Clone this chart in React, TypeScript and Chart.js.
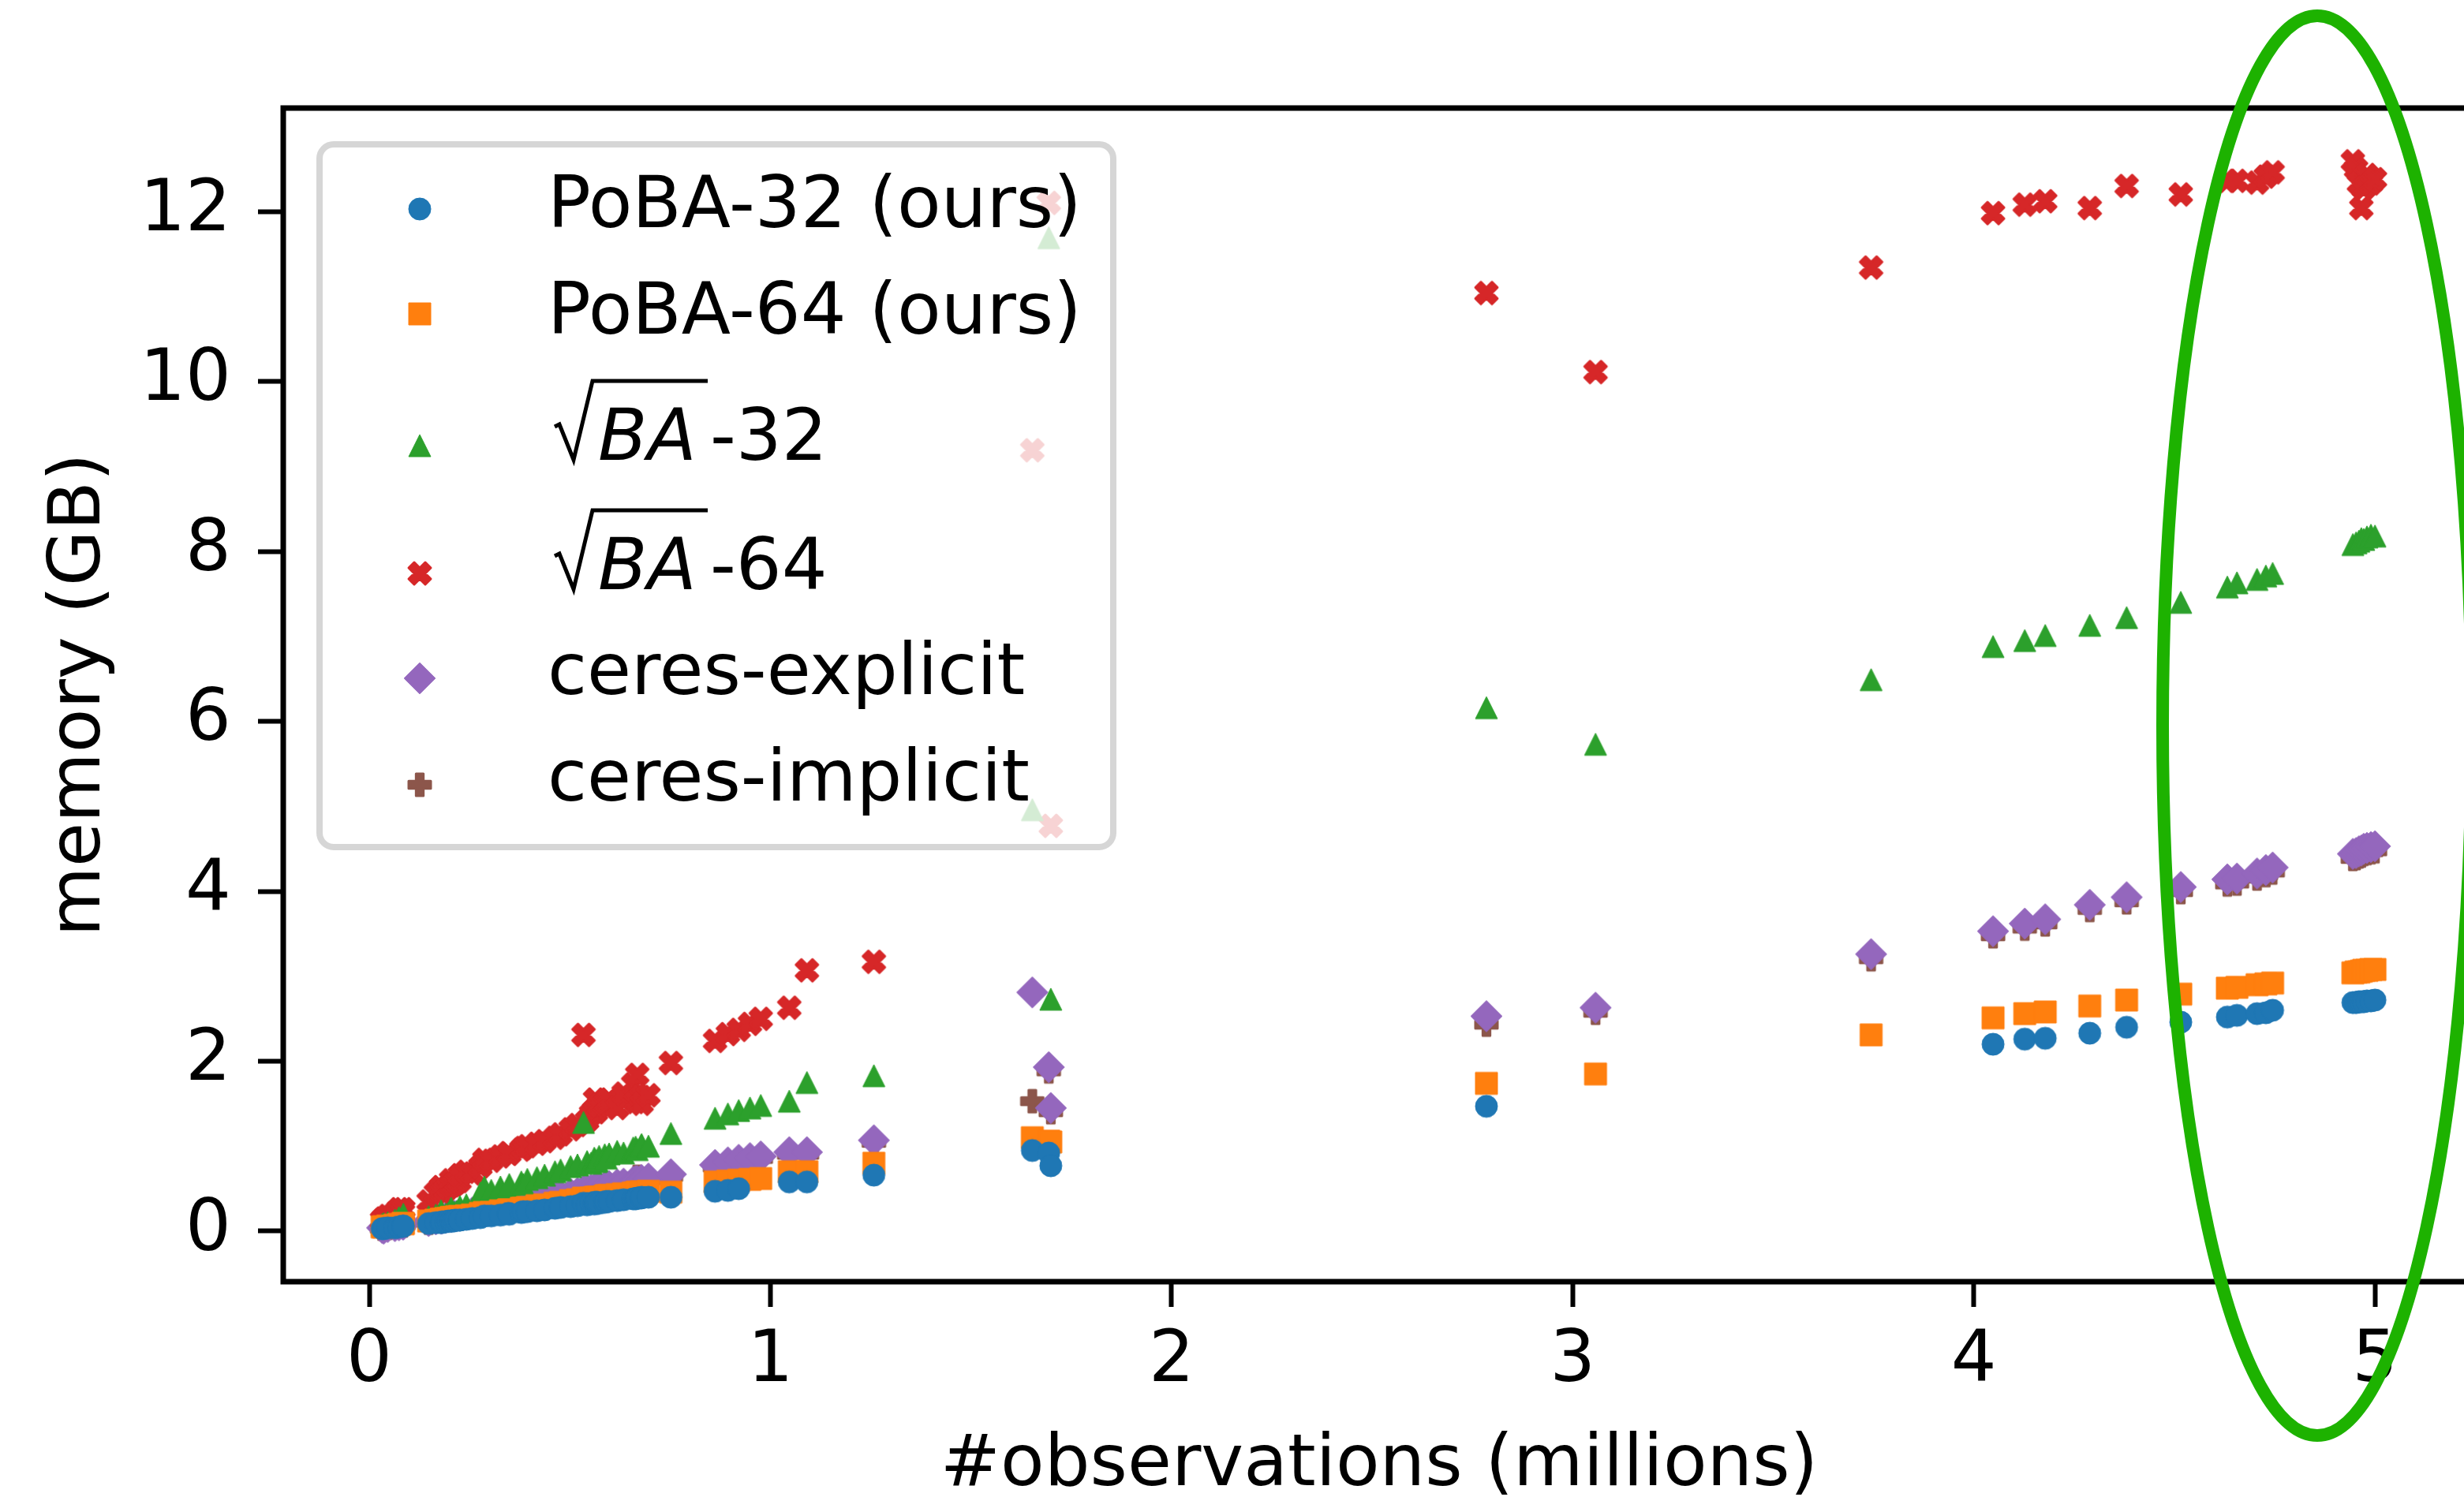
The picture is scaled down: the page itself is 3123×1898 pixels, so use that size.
import React, { useEffect, useRef } from 'react';
import { Chart, registerables } from 'chart.js';

Chart.register(...registerables);

// ---------------- data ----------------
const seriesNames = ['PoBA-32 (ours)', 'PoBA-64 (ours)', '√BA-32', '√BA-64', 'ceres-explicit', 'ceres-implicit'];
const seriesColors = ['#1f77b4', '#ff7f0e', '#2ca02c', '#d62728', '#9467bd', '#8c564b'];
const seriesMarkers = ['o', 's', '^', 'X', 'D', 'P'];
const xTickStep = 1;
const yTickStep = 2;
const xLabel = '#observations (millions)';
const yLabel = 'memory (GB)';

// #observations (millions)
const observations = [
  0.032, 0.036, 0.046, 0.064, 0.074, 0.084, 0.085,
  0.148, 0.166, 0.179, 0.182, 0.191, 0.197, 0.204, 0.205, 0.210, 0.213,
  0.218, 0.225, 0.226, 0.242, 0.257, 0.277, 0.287, 0.304, 0.327, 0.347,
  0.349, 0.379, 0.384, 0.394, 0.418, 0.437, 0.463, 0.477, 0.502, 0.519,
  0.534, 0.543, 0.553, 0.561, 0.563, 0.565, 0.568, 0.573, 0.587, 0.591,
  0.598, 0.618, 0.634, 0.658, 0.664, 0.668, 0.678, 0.679, 0.696,
  0.752, 0.862, 0.894, 0.921, 0.949, 0.976, 1.047, 1.091, 1.258,
  1.653, 1.694, 1.699, 2.785, 3.057, 3.744,
  4.048, 4.127, 4.178, 4.289, 4.381, 4.516, 4.632, 4.656, 4.706, 4.728, 4.745,
  4.945, 4.953, 4.960, 4.966, 4.972, 4.980, 4.990, 5.000,
];

// memory (GB)
const poba32 = [
  0.03, 0.03, 0.04, 0.04, 0.05, 0.06, 0.06,
  0.09, 0.10, 0.10, 0.11, 0.11, 0.12, 0.12, 0.12, 0.12, 0.13,
  0.13, 0.13, 0.13, 0.14, 0.15, 0.16, 0.18, 0.18, 0.19, 0.21,
  0.20, 0.22, 0.23, 0.23, 0.24, 0.25, 0.27, 0.28, 0.29, 0.30,
  0.33, 0.31, 0.33, 0.32, 0.34, 0.33, 0.34, 0.33, 0.34, 0.35,
  0.35, 0.36, 0.37, 0.38, 0.38, 0.39, 0.39, 0.40, 0.40,
  0.40, 0.47, 0.48, 0.50, null, null, 0.58, 0.58, 0.66,
  0.95, 0.92, 0.77, 1.47, null, null,
  2.20, 2.26, 2.27, 2.33, 2.40, 2.46, 2.52, 2.54, 2.56, 2.57, 2.60,
  2.69, 2.69, 2.70, 2.70, 2.70, 2.71, 2.71, 2.72,
];

const poba64 = [
  0.05, 0.05, 0.06, 0.07, 0.08, 0.09, 0.09,
  0.12, 0.13, 0.14, 0.14, 0.15, 0.15, 0.16, 0.16, 0.16, 0.16,
  0.17, 0.17, 0.17, 0.18, 0.19, 0.21, 0.22, 0.22, 0.24, 0.25,
  0.25, 0.27, 0.27, 0.28, 0.30, 0.31, 0.33, 0.34, 0.36, 0.37,
  0.39, 0.38, 0.39, 0.39, 0.40, 0.39, 0.40, 0.40, 0.41, 0.42,
  0.42, 0.43, 0.44, 0.45, 0.45, 0.46, 0.46, 0.46, 0.47,
  0.46, 0.58, 0.59, 0.60, 0.61, 0.62, 0.70, 0.70, 0.80,
  1.10, 1.06, 1.05, 1.74, 1.85, 2.31,
  2.51, 2.56, 2.58, 2.65, 2.72, 2.79, 2.86, 2.87, 2.90, 2.91, 2.92,
  3.04, 3.05, 3.05, 3.06, 3.07, 3.07, 3.08, 3.08,
];

const sqrtBA32 = [
  0.08, 0.09, 0.10, 0.13, 0.16, 0.15, 0.20,
  0.17, 0.19, 0.24, 0.19, 0.20, 0.21, 0.27, 0.21, 0.22, 0.22,
  0.23, 0.23, 0.29, 0.31, 0.26, 0.45, 0.52, 0.48, 0.52, 0.50,
  0.55, 0.58, 0.55, 0.61, 0.63, 0.66, 0.70, 0.72, 0.76, 0.78,
  1.28, 0.82, 0.80, 0.86, 0.84, 0.82, 0.83, 0.88, 0.90, 0.86,
  0.91, 0.94, 0.92, 0.98, 0.99, 0.96, 1.01, 1.02, 1.00,
  1.15, 1.33, 1.38, 1.42, 1.45, 1.48, 1.53, 1.75, 1.83,
  4.96, 11.69, 2.73, 6.16, 5.73, 6.49,
  6.88, 6.95, 7.01, 7.13, 7.22, 7.40, 7.58, 7.63, 7.67, 7.71, 7.74,
  8.08, 8.10, 8.12, 8.15, 8.14, 8.17, 8.19, 8.18,
];

const sqrtBA64 = [
  0.13, 0.15, 0.18, 0.21, 0.26, 0.22, 0.26,
  0.35, 0.45, 0.52, 0.45, 0.49, 0.52, 0.60, 0.54, 0.55, 0.56,
  0.58, 0.59, 0.66, 0.70, 0.68, 0.76, 0.84, 0.83, 0.88, 0.92,
  0.91, 0.96, 0.98, 1.00, 1.03, 1.06, 1.10, 1.14, 1.20, 1.25,
  2.31, 1.30, 1.38, 1.42, 1.55, 1.40, 1.45, 1.48, 1.50, 1.52,
  1.55, 1.45, 1.62, 1.73, 1.52, 1.84, 1.58, 1.50, 1.60,
  1.98, 2.24, 2.32, 2.37, 2.44, 2.50, 2.63, 3.07, 3.17,
  9.19, 12.10, 4.77, 11.04, 10.11, 11.34,
  11.98, 12.08, 12.12, 12.04, 12.30, 12.20, 12.36, 12.36, 12.34, 12.41, 12.46,
  12.59, 12.50, 12.33, 12.04, 12.27, 12.43, 12.33, 12.38,
];

const ceresExplicit = [
  0.04, 0.03, 0.05, 0.06, 0.07, 0.08, 0.08,
  0.12, 0.14, 0.15, 0.15, 0.16, 0.17, 0.17, 0.17, 0.18, 0.18,
  0.18, 0.19, 0.19, 0.21, 0.22, 0.24, 0.26, 0.26, 0.28, 0.30,
  0.30, 0.33, 0.34, 0.34, 0.36, 0.38, 0.41, 0.42, 0.44, 0.45,
  0.48, 0.48, 0.49, 0.49, 0.50, 0.50, 0.50, 0.51, 0.52, 0.53,
  0.53, 0.55, 0.56, 0.58, 0.59, 0.59, 0.60, 0.60, 0.62,
  0.67, 0.78, 0.81, 0.84, 0.86, 0.88, 0.93, 0.93, 1.07,
  2.81, 1.93, 1.45, 2.53, 2.63, 3.26,
  3.53, 3.62, 3.67, 3.84, 3.93, 4.05, 4.14, 4.15, 4.21, 4.25, 4.28,
  4.44, 4.45, 4.47, 4.48, 4.50, 4.51, 4.52, 4.53,
];

const ceresImplicit = [
  0.03, 0.03, 0.04, 0.05, 0.06, 0.07, 0.07,
  0.10, 0.12, 0.13, 0.13, 0.14, 0.15, 0.15, 0.15, 0.16, 0.16,
  0.16, 0.17, 0.17, 0.19, 0.20, 0.22, 0.24, 0.24, 0.26, 0.28,
  0.28, 0.31, 0.32, 0.32, 0.34, 0.36, 0.39, 0.40, 0.42, 0.43,
  0.46, 0.46, 0.47, 0.47, 0.48, 0.48, 0.48, 0.49, 0.50, 0.51,
  0.51, 0.53, 0.54, 0.56, 0.57, 0.64, 0.58, 0.58, 0.60,
  0.64, 0.75, 0.78, 0.81, 0.83, 0.85, 0.90, 0.90, 1.04,
  1.53, 1.88, 1.40, 2.43, 2.57, 3.20,
  3.47, 3.56, 3.61, 3.78, 3.87, 3.99, 4.08, 4.09, 4.15, 4.19, 4.22,
  4.38, 4.39, 4.41, 4.42, 4.44, 4.45, 4.46, 4.47,
];

const seriesValues = [poba32, poba64, sqrtBA32, sqrtBA64, ceresExplicit, ceresImplicit];

// ---------------- drawing helpers ----------------
const FONT = '"DejaVu Sans"';
const FS = 91;
const MS = 28; // marker size (px)

function markerPath(g: CanvasRenderingContext2D, shape: string, m: number) {
  g.beginPath();
  if (shape === 'o') {
    g.arc(0, 0, m / 2, 0, Math.PI * 2);
  } else if (shape === 's') {
    g.rect(-m / 2, -m / 2, m, m);
  } else if (shape === '^') {
    g.moveTo(0, -m / 2);
    g.lineTo(m / 2, m / 2);
    g.lineTo(-m / 2, m / 2);
    g.closePath();
  } else if (shape === 'D') {
    const d = m * Math.SQRT1_2;
    g.moveTo(0, -d);
    g.lineTo(d, 0);
    g.lineTo(0, d);
    g.lineTo(-d, 0);
    g.closePath();
  } else if (shape === 'X') {
    const pts = [[-1, -2], [0, -1], [1, -2], [2, -1], [1, 0], [2, 1], [1, 2], [0, 1], [-1, 2], [-2, 1], [-1, 0], [-2, -1]];
    pts.forEach(([px, py], i) => {
      const X = (px / 4) * m, Y = (py / 4) * m;
      if (i === 0) g.moveTo(X, Y); else g.lineTo(X, Y);
    });
    g.closePath();
  } else if (shape === 'P') {
    const pts = [[-1, -3], [1, -3], [1, -1], [3, -1], [3, 1], [1, 1], [1, 3], [-1, 3], [-1, 1], [-3, 1], [-3, -1], [-1, -1]];
    pts.forEach(([px, py], i) => {
      const X = (px / 6) * m, Y = (py / 6) * m;
      if (i === 0) g.moveTo(X, Y); else g.lineTo(X, Y);
    });
    g.closePath();
  }
}

function makeMarker(shape: string, color: string): HTMLCanvasElement {
  const S = 48;
  const c = document.createElement('canvas');
  c.width = S;
  c.height = S;
  const g = c.getContext('2d')!;
  g.translate(S / 2, S / 2);
  g.fillStyle = color;
  g.strokeStyle = color;
  g.lineJoin = 'round';
  markerPath(g, shape, MS);
  g.fill();
  g.lineWidth = shape === 'X' || shape === 'P' ? 3 : 1;
  g.stroke();
  return c;
}

export default function App() {
  const ref = useRef<HTMLCanvasElement>(null);

  useEffect(() => {
    const markers = seriesColors.map((c, i) => makeMarker(seriesMarkers[i], c));

    const datasets = seriesNames.map((name, i) => ({
      label: name,
      data: observations
        .map((x, j) => ({ x, y: seriesValues[i][j] }))
        .filter((p) => p.y !== null && p.y !== undefined),
      pointStyle: markers[i],
      pointRadius: 14,
      pointHoverRadius: 14,
      pointHitRadius: 0,
      backgroundColor: seriesColors[i],
      borderColor: seriesColors[i],
      borderWidth: 0,
      showLine: false,
    }));

    const overlay = {
      id: 'overlay',
      afterDraw(chart: any) {
        const ctx: CanvasRenderingContext2D = chart.ctx;
        const a = chart.chartArea;
        ctx.save();

        // spines (left, bottom, top; right spine lies outside the picture)
        ctx.strokeStyle = '#000';
        ctx.lineWidth = 7;
        ctx.lineJoin = 'miter';
        ctx.lineCap = 'butt';
        ctx.beginPath();
        ctx.moveTo(a.right + 20, a.top);
        ctx.lineTo(a.left, a.top);
        ctx.lineTo(a.left, a.bottom);
        ctx.lineTo(a.right + 20, a.bottom);
        ctx.stroke();

        // axis titles
        ctx.fillStyle = '#000';
        ctx.font = `${FS}px ${FONT}`;
        ctx.textAlign = 'center';
        ctx.textBaseline = 'alphabetic';
        ctx.fillText(xLabel, 1748, 1883);
        ctx.save();
        ctx.translate(126, (a.top + a.bottom) / 2);
        ctx.rotate(-Math.PI / 2);
        ctx.fillText(yLabel, 0, 0);
        ctx.restore();

        // legend
        const lx = 405, ly = 183, lw = 1006, lh = 891;
        ctx.beginPath();
        (ctx as any).roundRect(lx, ly, lw, lh, 18);
        ctx.fillStyle = 'rgba(255,255,255,0.8)';
        ctx.fill();
        ctx.strokeStyle = 'rgba(204,204,204,0.8)';
        ctx.lineWidth = 8;
        ctx.stroke();

        const markerY = [265, 398, 565, 727, 860, 995];
        const baseY = [288, 423, 583, 747, 880, 1015];
        seriesNames.forEach((name, i) => {
          const m = markers[i];
          ctx.drawImage(m, 532 - m.width / 2, markerY[i] - m.height / 2);
          const b = baseY[i];
          ctx.fillStyle = '#000';
          ctx.textAlign = 'left';
          ctx.textBaseline = 'alphabetic';
          if (name.startsWith('√')) {
            ctx.strokeStyle = '#000';
            ctx.lineWidth = 5;
            ctx.lineJoin = 'miter';
            ctx.beginPath();
            ctx.moveTo(703, b - 42);
            ctx.lineTo(709, b - 45);
            ctx.lineTo(727, b);
            ctx.lineTo(751, b - 100);
            ctx.lineTo(897, b - 100);
            ctx.stroke();
            ctx.font = `italic ${FS}px ${FONT}`;
            ctx.fillText('BA', 758, b);
            ctx.font = `${FS}px ${FONT}`;
            ctx.fillText(name.slice(3), 900, b);
          } else {
            ctx.font = `${FS}px ${FONT}`;
            ctx.fillText(name, 694, b);
          }
        });

        // green ellipse annotation
        ctx.beginPath();
        ctx.ellipse(2937, 920, 196, 900, 0, 0, Math.PI * 2);
        ctx.strokeStyle = 'rgb(29,178,0)';
        ctx.lineWidth = 16;
        ctx.stroke();

        ctx.restore();
      },
    };

    const tickFont = { family: 'DejaVu Sans', size: FS };

    const chart = new Chart(ref.current!, {
      type: 'scatter',
      data: { datasets: datasets as any },
      options: {
        animation: false,
        responsive: false,
        devicePixelRatio: 1,
        events: [],
        layout: { autoPadding: false, padding: { top: 137, left: 0, right: 0, bottom: 0 } },
        plugins: { legend: { display: false }, tooltip: { enabled: false } },
        scales: {
          x: {
            type: 'linear',
            position: 'bottom',
            min: -0.2144,
            max: 5.222,
            afterFit: (s: any) => { s.height = 273; s.paddingLeft = 0; s.paddingRight = 0; },
            border: { display: false },
            grid: { display: true, drawOnChartArea: false, drawTicks: true, tickLength: 32, tickWidth: 6, tickColor: '#000' },
            ticks: { stepSize: xTickStep, includeBounds: false, color: '#000', font: tickFont, padding: 16, maxRotation: 0, autoSkip: false },
          },
          y: {
            type: 'linear',
            position: 'left',
            min: -0.594,
            max: 13.216,
            afterFit: (s: any) => { s.width = 359; s.paddingTop = 0; s.paddingBottom = 0; },
            border: { display: false },
            grid: { display: true, drawOnChartArea: false, drawTicks: true, tickLength: 32, tickWidth: 6, tickColor: '#000' },
            ticks: { stepSize: yTickStep, includeBounds: false, color: '#000', font: tickFont, padding: 34, autoSkip: false },
          },
        },
      } as any,
      plugins: [overlay],
    });
    return () => chart.destroy();
  }, []);

  return (
    <div style={{ position: 'fixed', left: 0, top: 0, width: 3123, height: 1898, background: '#fff', overflow: 'hidden' }}>
      <canvas ref={ref} width={3123} height={1898} style={{ display: 'block', width: 3123, height: 1898 }} />
    </div>
  );
}
